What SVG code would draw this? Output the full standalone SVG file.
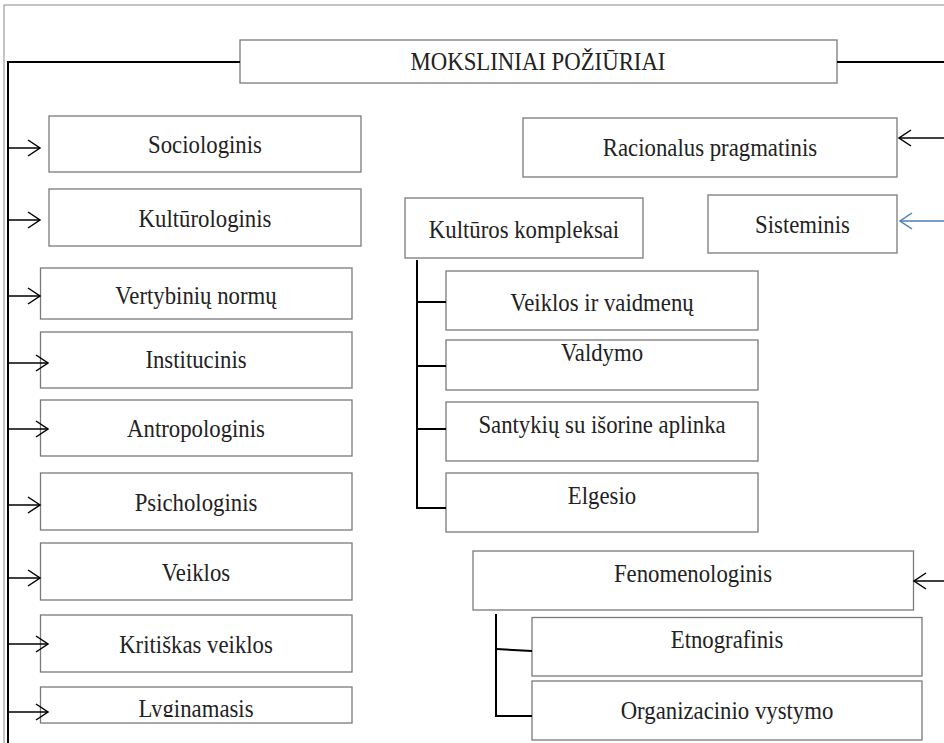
<svg xmlns="http://www.w3.org/2000/svg" width="944" height="743" viewBox="0 0 944 743">
<style>
.box{fill:#fff;stroke:#7a7a7a;stroke-width:1.3}
.t{font-family:'Liberation Serif','Times New Roman',Tinos,'DejaVu Serif',serif;font-size:24.5px;fill:#222;text-anchor:middle}
.c{stroke:#000;stroke-width:2;fill:none}
.a{stroke:#000;stroke-width:1.5;fill:none}
.ab{stroke:#4a7ebb;stroke-width:1.5;fill:none}
</style>
<defs>
<marker id="arr" markerUnits="userSpaceOnUse" markerWidth="14" markerHeight="18" refX="12" refY="8" orient="auto" overflow="visible">
<path d="M0,0 L12,8 L0,16" fill="none" stroke="#000" stroke-width="1.5"/>
</marker>
<marker id="arrb" markerUnits="userSpaceOnUse" markerWidth="14" markerHeight="18" refX="12" refY="8" orient="auto" overflow="visible">
<path d="M0,0 L12,8 L0,16" fill="none" stroke="#4a7ebb" stroke-width="1.5"/>
</marker>
<clipPath id="clipL"><rect x="40" y="687" width="313" height="30"/></clipPath>
</defs>
<rect x="4" y="5" width="945" height="745" fill="none" stroke="#8a8a8a" stroke-width="1"/>

<g id="n-title"><rect class="box" x="240" y="40" width="597" height="43"/><text class="t" transform="translate(538 70) scale(0.93 1)">MOKSLINIAI POŽIŪRIAI</text></g>

<g id="n-sociologinis"><rect class="box" x="49" y="116" width="312" height="56"/><text class="t" transform="translate(205 153) scale(0.93 1)">Sociologinis</text></g>
<g id="n-kulturologinis"><rect class="box" x="49" y="189" width="312" height="57"/><text class="t" transform="translate(205 227) scale(0.93 1)">Kultūrologinis</text></g>
<g id="n-vertybiniu"><rect class="box" x="40.5" y="268" width="311.5" height="51"/><text class="t" transform="translate(196 304) scale(0.93 1)">Vertybinių normų</text></g>
<g id="n-institucinis"><rect class="box" x="40.5" y="332" width="311.5" height="56"/><text class="t" transform="translate(196 368) scale(0.93 1)">Institucinis</text></g>
<g id="n-antropologinis"><rect class="box" x="40.5" y="400" width="311.5" height="56"/><text class="t" transform="translate(196 437) scale(0.93 1)">Antropologinis</text></g>
<g id="n-psichologinis"><rect class="box" x="40.5" y="473" width="311.5" height="57"/><text class="t" transform="translate(196 511) scale(0.93 1)">Psichologinis</text></g>
<g id="n-veiklos"><rect class="box" x="40.5" y="543" width="311.5" height="57"/><text class="t" transform="translate(196 581) scale(0.93 1)">Veiklos</text></g>
<g id="n-kritiskas"><rect class="box" x="40.5" y="615" width="311.5" height="57"/><text class="t" transform="translate(196 653) scale(0.93 1)">Kritiškas veiklos</text></g>
<g id="n-lyginamasis"><rect class="box" x="40.5" y="687" width="311.5" height="36"/><g clip-path="url(#clipL)"><text class="t" transform="translate(196 716.5) scale(0.93 1)">Lyginamasis</text></g></g>

<g id="n-racionalus"><rect class="box" x="523" y="118" width="374" height="59"/><text class="t" transform="translate(710 156) scale(0.93 1)">Racionalus pragmatinis</text></g>
<g id="n-kulturos"><rect class="box" x="405" y="198" width="238" height="60"/><text class="t" transform="translate(524 238) scale(0.93 1)">Kultūros kompleksai</text></g>
<g id="n-sisteminis"><rect class="box" x="708" y="195" width="189" height="58"/><text class="t" transform="translate(802.5 233) scale(0.93 1)">Sisteminis</text></g>
<g id="n-veiklos-vaidmenu"><rect class="box" x="446" y="271" width="312" height="59"/><text class="t" transform="translate(602 311) scale(0.93 1)">Veiklos ir vaidmenų</text></g>
<g id="n-valdymo"><rect class="box" x="446" y="340" width="312" height="50"/><text class="t" transform="translate(602 361) scale(0.93 1)">Valdymo</text></g>
<g id="n-santykiu"><rect class="box" x="446" y="402" width="312" height="59"/><text class="t" transform="translate(602 433) scale(0.93 1)">Santykių su išorine aplinka</text></g>
<g id="n-elgesio"><rect class="box" x="446" y="473" width="312" height="59"/><text class="t" transform="translate(602 504) scale(0.93 1)">Elgesio</text></g>
<g id="n-fenomenologinis"><rect class="box" x="473" y="551" width="440.5" height="59"/><text class="t" transform="translate(693 582) scale(0.93 1)">Fenomenologinis</text></g>
<g id="n-etnografinis"><rect class="box" x="532" y="617.5" width="390" height="58.5"/><text class="t" transform="translate(727 648) scale(0.93 1)">Etnografinis</text></g>
<g id="n-organizacinio"><rect class="box" x="532" y="681" width="390" height="59"/><text class="t" transform="translate(727 719) scale(0.93 1)">Organizacinio vystymo</text></g>

<g id="connectors">
<path class="c" d="M240,62 H8 V743"/>
<path class="c" d="M837,62 H944"/>
<line class="a" x1="8" y1="148" x2="40" y2="148" marker-end="url(#arr)"/>
<line class="a" x1="8" y1="220" x2="40" y2="220" marker-end="url(#arr)"/>
<line class="a" x1="8" y1="296" x2="40" y2="296" marker-end="url(#arr)"/>
<line class="a" x1="8" y1="363" x2="48" y2="363" marker-end="url(#arr)"/>
<line class="a" x1="8" y1="429" x2="48" y2="429" marker-end="url(#arr)"/>
<line class="a" x1="8" y1="505" x2="40" y2="505" marker-end="url(#arr)"/>
<line class="a" x1="8" y1="578" x2="40" y2="578" marker-end="url(#arr)"/>
<line class="a" x1="8" y1="644" x2="48" y2="644" marker-end="url(#arr)"/>
<line class="a" x1="8" y1="712" x2="48" y2="712" marker-end="url(#arr)"/>
<line class="a" x1="944" y1="138" x2="899" y2="138" marker-end="url(#arr)"/>
<line class="ab" x1="944" y1="221" x2="900" y2="221" marker-end="url(#arrb)"/>
<line class="a" x1="944" y1="581" x2="914" y2="581" marker-end="url(#arr)"/>
<path class="c" d="M417,260 V508 H446"/>
<path class="c" d="M417,302 H446"/>
<path class="c" d="M417,366 H446"/>
<path class="c" d="M417,429 H446"/>
<path class="c" d="M496,614 V716 H532"/>
<path class="c" d="M496,649 L532,651"/>
</g>
</svg>
